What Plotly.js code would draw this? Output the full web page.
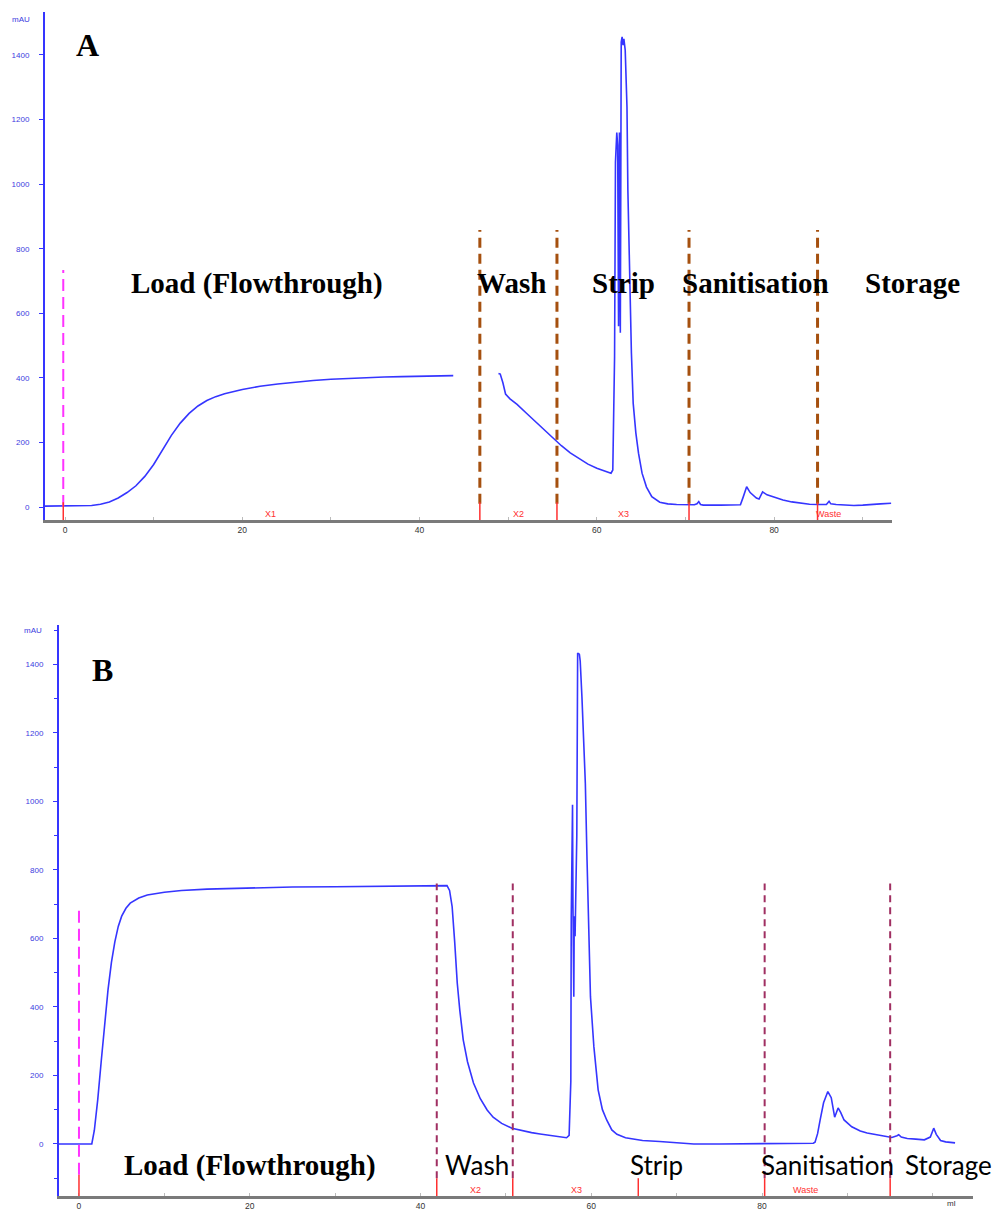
<!DOCTYPE html>
<html>
<head>
<meta charset="utf-8">
<script src="https://cdn.plot.ly/plotly-3.0.1.min.js"></script>
<style>html,body{margin:0;padding:0;background:#fff;}#chart{width:999px;height:1210px;}</style>
</head>
<body>
<div id="chart"></div>
<script>
// ---------- Chromatogram A (ml, mAU) ----------
var volumeA = [-2.3,0,2,3,4,5,6,7,8,9,10,11,12,13,14,15,16,17,18,20,22,24,26,28,30,32,34,36,38,40,42,43.8,
  46,
  48.9,49.1,49.4,49.7,50.2,51,52,53,54,55,55.5,56,57,58,59,60,61,61.6,61.8,62.0,62.1,62.25,62.35,62.45,62.55,62.65,62.75,62.85,62.95,63.05,63.2,63.4,63.5,63.7,63.9,64.1,64.4,64.7,65.1,65.6,66.2,67.1,68,69,70,71,71.3,71.5,71.7,72,74,76.2,76.5,76.9,77.3,78,78.3,78.7,79.2,80,81,82,83,84,85,85.9,86.2,86.4,87,88,89,90,91,92,93.2];
var absA = [3,3,4,5,9,16,28,45,66,95,132,176,222,260,290,313,330,342,351,364,374,381,387,392,396,399,401,403,404,405,406,407,
  null,
  414,412,385,350,335,318,292,266,240,215,202,190,168,150,133,120,110,105,115,465,1068,1160,1120,560,1160,540,1440,1456,1430,1450,1415,1239,982,725,477,322,230,167,105,62,32,15,10,8,7,7,10,17,8,6,6,7,30,63,45,28,25,47,38,30,22,16,12,9,8,8,18,10,8,6,5,6,9,10,12];

// ---------- Chromatogram B (ml, mAU) ----------
var volumeB = [-2.4,0,1,1.5,1.8,2.2,2.6,3.0,3.4,3.8,4.2,4.6,5,5.5,6,7,8,10,12,15,20,25,30,35,40,43.1,
  43.4,43.7,44.0,44.3,44.6,45.0,45.5,46.2,47,47.8,48.5,49.5,50.7,52,53,54,55,56,57.1,57.4,57.6,57.65,57.8,57.85,57.95,58.0,58.1,58.3,58.4,58.6,58.7,58.9,59.1,59.3,59.5,59.7,59.9,60.3,60.8,61.3,61.8,62.4,63,64,65,66,68,70,70.6,72,75,80,83,86,86.2,86.5,86.8,87.2,87.7,88.1,88.5,88.7,88.9,89.2,89.6,90.5,91.5,92.3,93.5,94.5,95.2,95.8,96.0,96.3,97,98,99,99.7,100.0,100.1,100.4,100.9,101.5,102.6];
var absB = [0,0,0,0,40,130,240,350,450,530,590,635,665,688,703,718,727,735,740,744,748,750,751,752,753,754,
  740,693,590,470,390,304,240,178,132,99,78,60,46,38,33,29,25,21,18,25,182,660,990,700,430,665,606,900,1433,1430,1410,1306,1189,1053,829,625,430,284,158,100,70,41,28,18,13,10,7,3,1,0,0,0,1,2,5,30,70,120,153,135,78,95,105,92,70,50,38,32,26,21,19,24,27,20,16,14,12,20,42,46,28,10,6,3];

// ---------- Phase boundaries / events ----------
var injectionA = -0.2;
var phaseLinesA = [46.8, 55.5, 70.4, 84.9];
var injectionB = 0;
var phaseLinesB = [41.9, 50.8, 80.3, 95.0];
var fracMarkB = [65.5];
var phaseNames = ["Load (Flowthrough)", "Wash", "Strip", "Sanitisation", "Storage"];
var fracLabelsA = ["X1", "X2", "X3", "Waste"];
var fracLabelsB = ["X2", "X3", "Waste"];
var yTicks = [0,200,400,600,800,1000,1200,1400];
var xTicks = [0,20,40,60,80];

var W = 999, H = 1210;
function px(x){return x/W;}
function py(y){return 1 - y/H;}

var blue = '#3535ff';
var traces = [
  {x: volumeA, y: absA, type:'scatter', mode:'lines', line:{color:blue, width:1.6}, xaxis:'x', yaxis:'y', connectgaps:false, hoverinfo:'skip'},
  {x: volumeB, y: absB, type:'scatter', mode:'lines', line:{color:blue, width:1.6}, xaxis:'x2', yaxis:'y2', hoverinfo:'skip'}
];

var shapes = [];
shapes.push({type:'line', xref:'x', yref:'y', x0:injectionA, x1:injectionA, y0:0, y1:734, line:{color:'#ff33ff', width:2, dash:'12px,6px'}});
shapes.push({type:'line', xref:'x', yref:'y', x0:injectionA, x1:injectionA, y0:-40, y1:15, line:{color:'#ff3030', width:1.5}});
phaseLinesA.forEach(function(v){
  shapes.push({type:'line', xref:'x', yref:'y', x0:v, x1:v, y0:10, y1:858, line:{color:'#a5500f', width:3, dash:'10px,6px'}});
  shapes.push({type:'line', xref:'x', yref:'y', x0:v, x1:v, y0:-40, y1:15, line:{color:'#ff3030', width:1.5}});
});
shapes.push({type:'line', xref:'x2', yref:'y2', x0:injectionB, x1:injectionB, y0:-90, y1:690, line:{color:'#ff33ff', width:2, dash:'12px,6px'}});
shapes.push({type:'line', xref:'x2', yref:'y2', x0:injectionB, x1:injectionB, y0:-152, y1:-90, line:{color:'#ff3030', width:1.5}});
phaseLinesB.forEach(function(v){
  shapes.push({type:'line', xref:'x2', yref:'y2', x0:v, x1:v, y0:-100, y1:760, line:{color:'#a02f62', width:2, dash:'7px,5px'}});
  shapes.push({type:'line', xref:'x2', yref:'y2', x0:v, x1:v, y0:-152, y1:-100, line:{color:'#ff3030', width:1.5}});
});
fracMarkB.forEach(function(v){
  shapes.push({type:'line', xref:'x2', yref:'y2', x0:v, x1:v, y0:-152, y1:-100, line:{color:'#ff3030', width:1.5}});
});

var serifBold = {family:'"Liberation Serif", "Times New Roman", serif', size:29, color:'#000'};
var sans = {family:'Lato, "Open Sans", sans-serif', size:26, color:'#000'};
var ann = [];
function A(x,y,t,f,extra){var o={xref:'paper',yref:'paper',x:px(x),y:py(y),text:t,showarrow:false,font:f,xanchor:'center',yanchor:'middle'}; if(extra){for(var k in extra)o[k]=extra[k];} ann.push(o);}
A(87,45,'<b>A</b>',{family:serifBold.family,size:32,color:'#000'});
A(102,670,'<b>B</b>',{family:serifBold.family,size:32,color:'#000'});
A(21,20,'mAU',{family:'Arial, "Liberation Sans", sans-serif',size:8,color:'#3c3ce0'});
A(33,630,'mAU',{family:'Arial, "Liberation Sans", sans-serif',size:8,color:'#3c3ce0'});
A(951,1203,'ml',{family:'Arial, "Liberation Sans", sans-serif',size:8,color:'#333'});
var posA = [257,511,623,755,912];
phaseNames.forEach(function(t,i){A(posA[i],283,'<b>'+t+'</b>',serifBold);});
A(250,1165,'<b>'+phaseNames[0]+'</b>',serifBold);
var posB = [477,656,827,948];
for(var i=1;i<phaseNames.length;i++){A(posB[i-1],1165,phaseNames[i],sans);}
var red = {family:'Arial, "Liberation Sans", sans-serif', size:9, color:'#ff3030'};
var fxA = [270,518,623,828];
fracLabelsA.forEach(function(t,i){A(fxA[i],514,t,red);});
var fxB = [475,576,805];
fracLabelsB.forEach(function(t,i){A(fxB[i],1190,t,red);});

var tickFontY = {family:'Arial, "Liberation Sans", sans-serif', size:8, color:'#3c3ce0'};
var tickFontX = {family:'Arial, "Liberation Sans", sans-serif', size:8.5, color:'#333'};

var layout = {
  width: W, height: H,
  margin:{l:0,r:0,t:0,b:0},
  paper_bgcolor:'#fff', plot_bgcolor:'#fff',
  showlegend:false,
  xaxis:{domain:[45/W, 892/W], range:[-2.26,93.3], anchor:'y', tickvals:xTicks, ticks:'inside', ticklen:3, tickcolor:'#bbb',
    minor:{dtick:10, tick0:0, ticks:'inside', ticklen:3, tickcolor:'#bbb'},
    showline:true, linecolor:'#7a7a7a', linewidth:2.5, showgrid:false, zeroline:false, tickfont:tickFontX},
  yaxis:{domain:[py(520), py(12)], range:[-40,1533], anchor:'x', tickvals:yTicks, ticks:'outside', ticklen:4, tickcolor:blue,
    showline:true, linecolor:blue, linewidth:2, showgrid:false, zeroline:false, tickfont:tickFontY, ticklabelstandoff:8},
  xaxis2:{domain:[59/W, 973/W], range:[-2.34,104.7], anchor:'y2', tickvals:xTicks, ticks:'inside', ticklen:3, tickcolor:'#bbb',
    minor:{dtick:10, tick0:0, ticks:'inside', ticklen:3, tickcolor:'#bbb'},
    showline:true, linecolor:'#7a7a7a', linewidth:2.5, showgrid:false, zeroline:false, tickfont:tickFontX},
  yaxis2:{domain:[py(1196), py(625)], range:[-152,1515], anchor:'x2', tickvals:yTicks, ticks:'outside', ticklen:4, tickcolor:blue,
    minor:{dtick:100, tick0:0, ticks:'outside', ticklen:3, tickcolor:blue},
    showline:true, linecolor:blue, linewidth:2, showgrid:false, zeroline:false, tickfont:tickFontY, ticklabelstandoff:8},
  shapes: shapes,
  annotations: ann
};

Plotly.newPlot('chart', traces, layout, {staticPlot:true, displayModeBar:false});
</script>
</body>
</html>
